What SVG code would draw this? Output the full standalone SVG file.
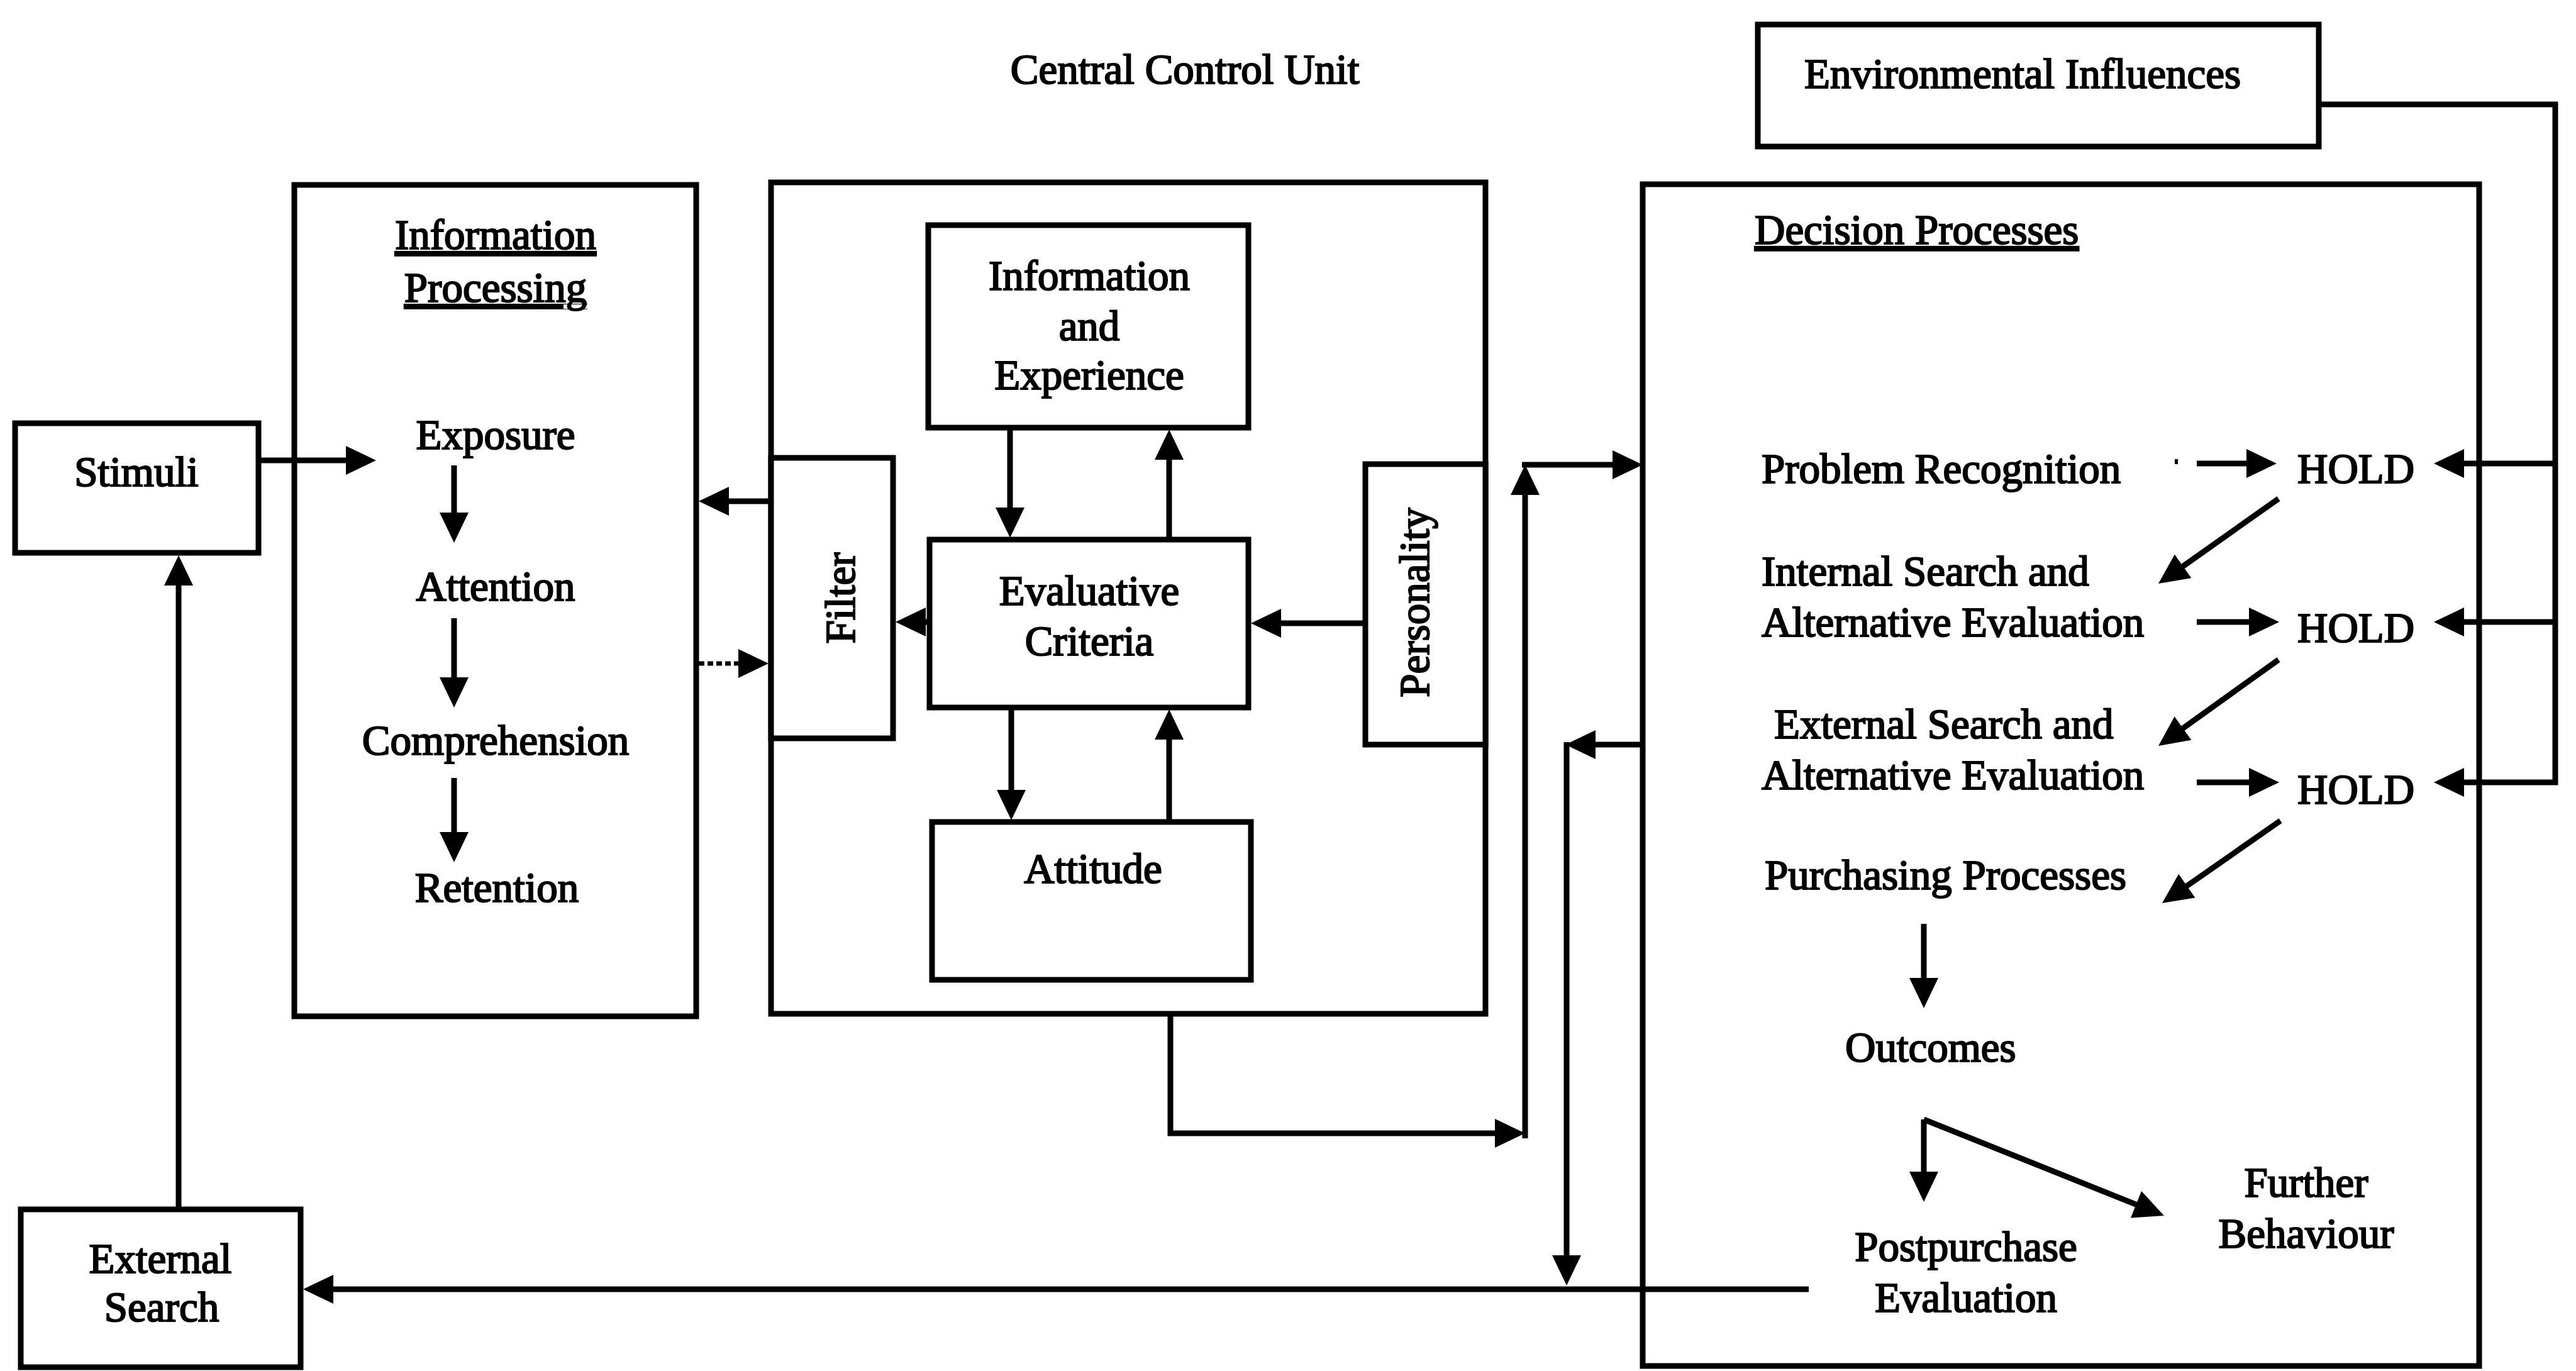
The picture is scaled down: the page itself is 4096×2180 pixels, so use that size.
<svg xmlns="http://www.w3.org/2000/svg" width="4096" height="2180" viewBox="0 0 4096 2180">
  <style>
    .box { fill: #fff; stroke: #000; stroke-width: 9; }
    .ln { fill: none; stroke: #000; stroke-width: 9; marker-end: url(#ah); }
    .pl { fill: none; stroke: #000; stroke-width: 9; }
    .dot { fill: none; stroke: #000; stroke-width: 7; stroke-dasharray: 9 5; marker-end: url(#ah); }
    .t { font-family: "Liberation Serif", "Times New Roman", serif; font-size: 67px; fill: #000; stroke: #000; stroke-width: 2.2; }
    .m { text-anchor: middle; }
    .u { text-decoration: underline; }
  </style>
  <defs>
    <marker id="ah" markerUnits="userSpaceOnUse" viewBox="0 0 48 46" markerWidth="48" markerHeight="46" refX="28" refY="23" orient="auto">
      <path d="M0,0 L48,23 L0,46 z" fill="#000"/>
    </marker>
  </defs>
  <rect width="4096" height="2180" fill="#fff"/>

  <!-- heading over the central unit -->
  <g id="central-title">
    <text class="t m" x="1884" y="133">Central Control Unit</text>
  </g>

  <!-- boxes -->
  <g id="stimuli">
    <rect class="box" x="24" y="673" width="387" height="206"/>
    <text class="t m" x="217" y="773">Stimuli</text>
  </g>
  <g id="information-processing">
    <rect class="box" x="468" y="294" width="639" height="1322"/>
    <text class="t m u" x="788" y="396">Information</text>
    <text class="t m u" x="788" y="480">Processing</text>
    <text class="t m" x="788" y="714">Exposure</text>
    <text class="t m" x="788" y="955">Attention</text>
    <text class="t m" x="788" y="1200">Comprehension</text>
    <text class="t m" x="790" y="1434">Retention</text>
  </g>
  <g id="central-control-unit">
    <rect class="box" x="1226" y="290" width="1136" height="1322"/>
  </g>
  <g id="filter">
    <rect class="box" x="1226" y="728" width="194" height="446"/>
    <text class="t m" transform="translate(1359 951) rotate(-90)">Filter</text>
  </g>
  <g id="personality">
    <rect class="box" x="2171" y="738" width="191" height="446"/>
    <text class="t m" transform="translate(2272 958) rotate(-90)">Personality</text>
  </g>
  <g id="information-experience">
    <rect class="box" x="1476" y="358" width="509" height="322"/>
    <text class="t m" x="1732" y="461">Information</text>
    <text class="t m" x="1732" y="541">and</text>
    <text class="t m" x="1732" y="619">Experience</text>
  </g>
  <g id="evaluative-criteria">
    <rect class="box" x="1478" y="858" width="507" height="267"/>
    <text class="t m" x="1732" y="962">Evaluative</text>
    <text class="t m" x="1732" y="1042">Criteria</text>
  </g>
  <g id="attitude">
    <rect class="box" x="1482" y="1307" width="507" height="251"/>
    <text class="t m" x="1738" y="1404">Attitude</text>
  </g>
  <g id="environmental-influences">
    <rect class="box" x="2795" y="39" width="892" height="194"/>
    <text class="t m" x="3216" y="140">Environmental Influences</text>
  </g>
  <g id="decision-processes">
    <rect class="box" x="2612" y="293" width="1330" height="1879"/>
    <text class="t u" x="2790" y="388">Decision Processes</text>
  </g>
  <g id="external-search">
    <rect class="box" x="33" y="1923" width="445" height="251"/>
    <text class="t m" x="255" y="2024">External</text>
    <text class="t m" x="257" y="2101">Search</text>
  </g>

  <!-- stages inside the decision process -->
  <g id="problem-recognition">
    <text class="t" x="2801" y="768">Problem Recognition</text>
  </g>
  <g id="internal-search">
    <text class="t" x="2801" y="931">Internal Search and</text>
    <text class="t" x="2801" y="1012">Alternative Evaluation</text>
  </g>
  <g id="external-search-eval">
    <text class="t" x="2821" y="1174">External Search and</text>
    <text class="t" x="2801" y="1255">Alternative Evaluation</text>
  </g>
  <g id="purchasing-processes">
    <text class="t" x="2806" y="1414">Purchasing Processes</text>
  </g>
  <g id="outcomes">
    <text class="t" x="2934" y="1688">Outcomes</text>
  </g>
  <g id="postpurchase-evaluation">
    <text class="t m" x="3126" y="2005">Postpurchase</text>
    <text class="t m" x="3126" y="2086">Evaluation</text>
  </g>
  <g id="further-behaviour">
    <text class="t m" x="3667" y="1903">Further</text>
    <text class="t m" x="3667" y="1984">Behaviour</text>
  </g>
  <g id="hold-1"><text class="t" x="3653" y="768">HOLD</text></g>
  <g id="hold-2"><text class="t" x="3653" y="1021">HOLD</text></g>
  <g id="hold-3"><text class="t" x="3653" y="1278">HOLD</text></g>

  <!-- connectors -->
  <g id="connectors">
    <!-- information processing chain -->
    <path class="ln" d="M411,732 L578,732"/>
    <path class="ln" d="M722,740 L722,843"/>
    <path class="ln" d="M722,983 L722,1105"/>
    <path class="ln" d="M722,1237 L722,1351"/>
    <!-- filter links -->
    <path class="ln" d="M1226,797 L1131,797"/>
    <path class="dot" d="M1111,1055 L1202,1055"/>
    <path class="ln" d="M1478,989 L1444,989"/>
    <!-- central unit internals -->
    <path class="ln" d="M2171,991 L2009,991"/>
    <path class="ln" d="M1606,680 L1606,835"/>
    <path class="ln" d="M1859,858 L1859,703"/>
    <path class="ln" d="M1608,1125 L1608,1284"/>
    <path class="ln" d="M1859,1307 L1859,1148"/>
    <!-- central unit to decision processes -->
    <path class="ln" d="M1861,1612 L1861,1802 L2405,1802"/>
    <path class="ln" d="M2425,1810 L2425,759"/>
    <path class="ln" d="M2420,739 L2592,739"/>
    <!-- decision processes back out -->
    <path class="ln" d="M2612,1184 L2509,1184"/>
    <path class="ln" d="M2491,1180 L2491,2024"/>
    <path class="ln" d="M2876,2050 L502,2050"/>
    <path class="ln" d="M284,1923 L284,903"/>
    <!-- environmental influences feed the holds -->
    <path class="pl" d="M3687,166 L4063,166 L4063,1248"/>
    <path class="ln" d="M4067,737 L3890,737"/>
    <path class="ln" d="M4067,989 L3890,989"/>
    <path class="ln" d="M4067,1244 L3890,1244"/>
    <!-- stage to hold -->
    <rect x="3458" y="730" width="5" height="8" fill="#000"/>
    <path class="ln" d="M3493,737 L3600,737"/>
    <path class="ln" d="M3493,989 L3604,989"/>
    <path class="ln" d="M3493,1244 L3604,1244"/>
    <!-- hold to next stage -->
    <path class="ln" d="M3623,793 L3448.3,916.5"/>
    <path class="ln" d="M3623,1049 L3448.3,1174.3"/>
    <path class="ln" d="M3626,1305 L3454.4,1424.6"/>
    <!-- purchase and outcomes -->
    <path class="ln" d="M3059,1469 L3059,1583"/>
    <path class="ln" d="M3059,1780 L3059,1891"/>
    <path class="ln" d="M3059,1780 L3422.4,1925.6"/>
  </g>
</svg>
